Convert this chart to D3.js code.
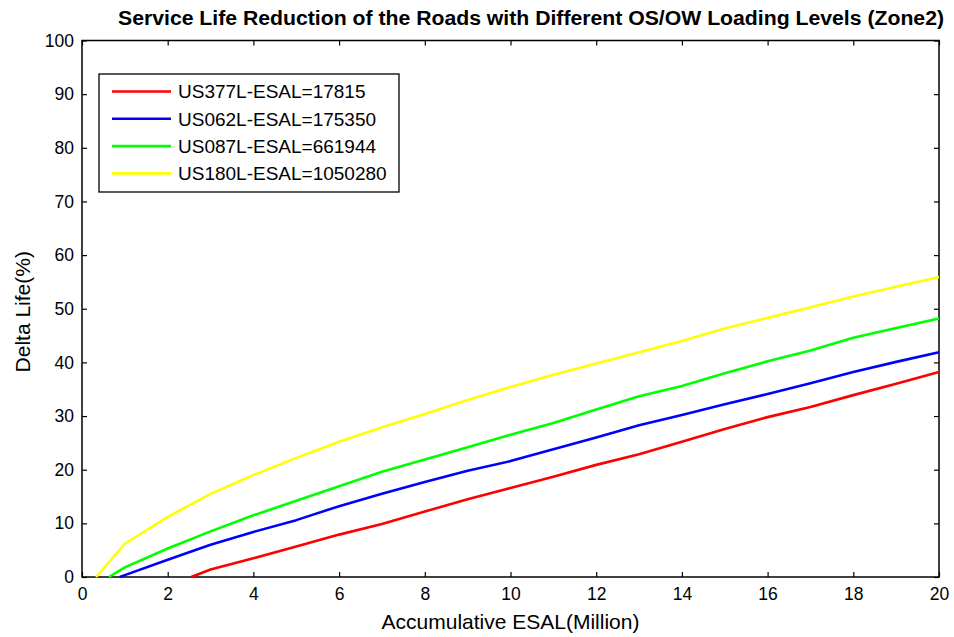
<!DOCTYPE html>
<html><head><meta charset="utf-8">
<script src="https://cdn.jsdelivr.net/npm/d3@7"></script>
<style>body{margin:0;background:#fff}svg{display:block}text{font-family:"Liberation Sans",Arial,sans-serif}</style>
</head><body>
<svg id="c" width="954" height="637"></svg>
<script>
const seriesNames = ["US377L-ESAL=17815","US062L-ESAL=175350","US087L-ESAL=661944","US180L-ESAL=1050280"];
const seriesColors = ["#ff0000","#0000ff","#00ff00","#ffff00"];
const redX    = [2.55,3,4,5,6,7,8,9,10,11,12,13,14,15,16,17,18,19,20];
const redY    = [0,1.4,3.5,5.7,7.9,9.9,12.2,14.5,16.6,18.7,20.9,22.9,25.2,27.6,29.8,31.7,33.9,36.0,38.2];
const blueX   = [0.88,1,2,3,4,5,6,7,8,9,10,11,12,13,14,15,16,17,18,19,20];
const blueY   = [0,0.35,3.2,6.0,8.4,10.6,13.2,15.5,17.7,19.8,21.6,23.8,26.0,28.3,30.2,32.2,34.1,36.1,38.2,40.1,41.9];
const greenX  = [0.63,1,2,3,4,5,6,7,8,9,10,11,12,13,14,15,16,17,18,19,20];
const greenY  = [0,1.8,5.3,8.5,11.5,14.2,16.9,19.6,21.9,24.2,26.5,28.7,31.2,33.7,35.6,38.0,40.2,42.2,44.6,46.4,48.2];
const yellowX = [0.33,1,2,3,4,5,6,7,8,9,10,11,12,13,14,15,16,17,18,19,20];
const yellowY = [0,6.2,11.2,15.5,19.0,22.2,25.2,27.9,30.4,33.0,35.4,37.7,39.8,41.9,44.0,46.3,48.3,50.3,52.3,54.1,55.9];
const xTicks = [0,2,4,6,8,10,12,14,16,18,20];
const yTicks = [0,10,20,30,40,50,60,70,80,90,100];
const titleText = "Service Life Reduction of the Roads with Different OS/OW Loading Levels (Zone2)";
const xLabel = "Accumulative ESAL(Million)";
const yLabel = "Delta Life(%)";

const seriesX = [redX, blueX, greenX, yellowX];
const seriesY = [redY, blueY, greenY, yellowY];

const L = 82, R = 939, T = 40.5, B = 577;
const svg = d3.select("#c");
const x = d3.scaleLinear().domain([0,20]).range([L,R]);
const y = d3.scaleLinear().domain([0,100]).range([B,T]);

const tickLen = 5;
const gB = svg.append("g").attr("transform",`translate(0,${B})`)
  .call(d3.axisBottom(x).tickValues(xTicks).tickSize(-tickLen).tickPadding(11).tickFormat(d3.format("d")));
const gT = svg.append("g").attr("transform",`translate(0,${T})`)
  .call(d3.axisTop(x).tickValues(xTicks).tickSize(-tickLen).tickFormat(""));
const gL = svg.append("g").attr("transform",`translate(${L},0)`)
  .call(d3.axisLeft(y).tickValues(yTicks).tickSize(-tickLen).tickPadding(8).tickFormat(d3.format("d")));
const gR = svg.append("g").attr("transform",`translate(${R},0)`)
  .call(d3.axisRight(y).tickValues(yTicks).tickSize(-tickLen).tickFormat(""));
[gB,gT,gL,gR].forEach(g=>{
  g.select(".domain").remove();
  g.selectAll(".tick line").attr("stroke","#000").attr("stroke-width",1.2);
  g.selectAll(".tick text").attr("font-size",17.5).attr("fill","#000").attr("font-family","Liberation Sans, Arial, sans-serif");
});
svg.append("rect").attr("x",L).attr("y",T).attr("width",R-L).attr("height",B-T)
  .attr("fill","none").attr("stroke","#000").attr("stroke-width",1.5);

const line = d3.line().x(d=>x(d[0])).y(d=>y(d[1]));
seriesX.forEach((xs,i)=>{
  const pts = xs.map((v,j)=>[v, seriesY[i][j]]);
  svg.append("path").datum(pts).attr("d",line).attr("fill","none")
    .attr("stroke",seriesColors[i]).attr("stroke-width",2.6).attr("stroke-linejoin","round");
});

svg.append("text").attr("x",531).attr("y",25).attr("text-anchor","middle")
  .attr("font-size",20).attr("font-weight","bold").attr("fill","#000")
  .attr("textLength",826).attr("lengthAdjust","spacingAndGlyphs").text(titleText);
svg.append("text").attr("x",(L+R)/2).attr("y",629).attr("text-anchor","middle")
  .attr("font-size",21).attr("fill","#000").text(xLabel);
svg.append("text").attr("transform",`translate(30,${(T+B)/2 + 3}) rotate(-90)`).attr("text-anchor","middle")
  .attr("font-size",21).attr("fill","#000").text(yLabel);

const lg = svg.append("g");
lg.append("rect").attr("x",99).attr("y",74).attr("width",300).attr("height",118)
  .attr("fill","#fff").attr("stroke","#000").attr("stroke-width",1.3);
seriesNames.forEach((n,i)=>{
  const yy = 91.5 + i*27.3;
  lg.append("line").attr("x1",112).attr("x2",171).attr("y1",yy).attr("y2",yy)
    .attr("stroke",seriesColors[i]).attr("stroke-width",2.6);
  lg.append("text").attr("x",178).attr("y",yy).attr("dy","0.36em")
    .attr("font-size",19).attr("fill","#000").text(n);
});
</script>
</body></html>
